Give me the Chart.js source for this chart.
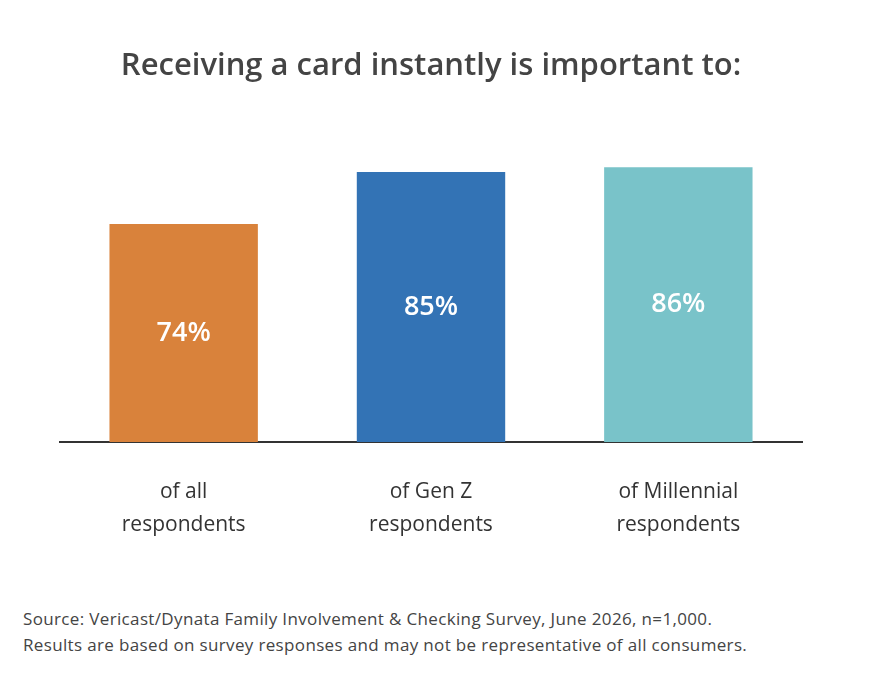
<!DOCTYPE html>
<html>
<head>
<meta charset="utf-8">
<script src="https://cdn.jsdelivr.net/npm/chart.js@4"></script>
<style>
  body { margin: 0; background: #fff; font-family: "Open Sans", sans-serif; }
  #wrap { position: relative; width: 872px; height: 587px; }
  #note { position: absolute; left: 23px; top: 606px; color: #444; font-size: 17px; letter-spacing: 0.35px; line-height: 26px; }
</style>
</head>
<body>
<div id="wrap"><canvas id="chart"></canvas></div>
<div id="note">Source: Vericast/Dynata Family Involvement &amp; Checking Survey, June 2026, n=1,000.<br>Results are based on survey responses and may not be representative of all consumers.</div>
<script>
const categories = [['of all', 'respondents'], ['of Gen Z', 'respondents'], ['of Millennial', 'respondents']];
const values = [74, 85, 86];
const barColors = ['#D9823B', '#3373B5', '#79C3C9'];

// value labels in the middle of each visible bar
const barLabels = {
  id: 'barLabels',
  afterDatasetsDraw(chart) {
    const ctx = chart.ctx;
    const meta = chart.getDatasetMeta(0);
    const bottom = chart.chartArea.bottom;
    ctx.save();
    ctx.fillStyle = '#fff';
    ctx.font = '600 27px "Open Sans", sans-serif';
    ctx.textAlign = 'center';
    ctx.textBaseline = 'middle';
    meta.data.forEach((bar, i) => {
      ctx.fillText(values[i] + '%', bar.x, (bar.y + bottom) / 2);
    });
    ctx.restore();
  }
};

new Chart(document.getElementById('chart'), {
  type: 'bar',
  data: {
    labels: categories,
    datasets: [{
      data: values,
      backgroundColor: barColors,
      barPercentage: 0.6,
      categoryPercentage: 1
    }]
  },
  options: {
    responsive: true,
    maintainAspectRatio: false,
    animation: false,
    layout: { padding: { left: 60, right: 70, bottom: 20 } },
    scales: {
      x: {
        grid: { display: false },
        border: { display: true, color: '#333', width: 2 },
        ticks: {
          color: '#333',
          padding: 26,
          font: { family: '"Open Sans", sans-serif', size: 21, lineHeight: 1.55 }
        }
      },
      y: {
        display: false,
        min: 28,
        max: 90
      }
    },
    plugins: {
      legend: { display: false },
      tooltip: { enabled: false },
      title: {
        display: true,
        text: 'Receiving a card instantly is important to:',
        color: '#444',
        font: { family: '"Open Sans", sans-serif', size: 31, weight: '600' },
        padding: { top: 48, bottom: 63 }
      }
    }
  },
  plugins: [barLabels]
});
</script>
</body>
</html>
